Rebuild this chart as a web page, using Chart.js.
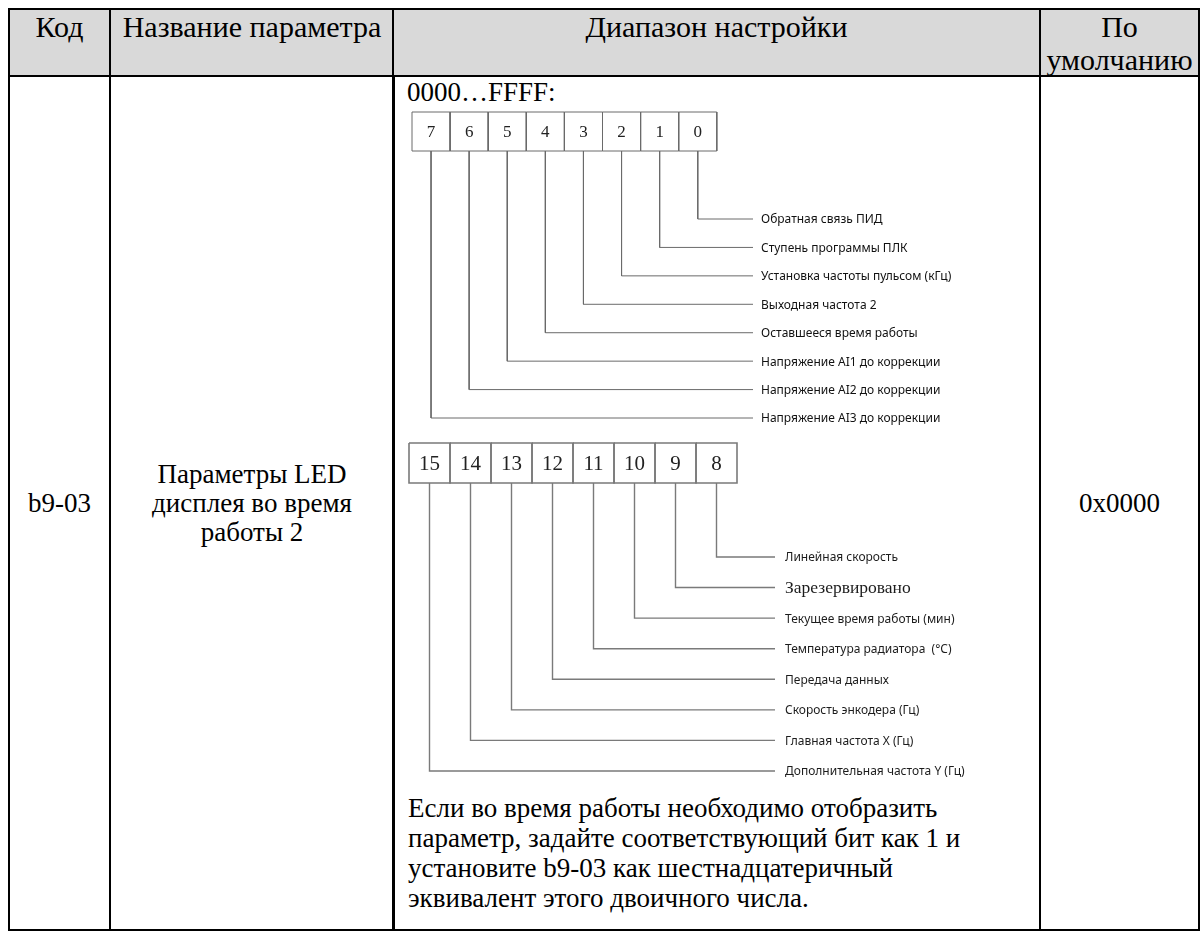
<!DOCTYPE html>
<html lang="ru">
<head>
<meta charset="utf-8">
<script src="https://cdn.jsdelivr.net/npm/chart.js@4.4.1/dist/chart.umd.min.js"></script>
<style>
    body { margin: 0; width: 1202px; height: 932px; position: relative; overflow: hidden; background: #fff;
           font-family: "Liberation Serif", "Times New Roman", serif; color: #000; }
    .cell { position: absolute; box-sizing: border-box; border: 2px solid #000; font-size: 27px; line-height: 30px; }
    .head { background: #d9d9d9; text-align: center; font-size: 30px; line-height: 33px; padding-top: 0; white-space: nowrap; }
    .mid { display: flex; align-items: center; justify-content: center; text-align: center; }
    .txt { position: absolute; font-size: 27px; line-height: 30px; white-space: nowrap; }
    canvas { position: absolute; }
</style>
</head>
<body>
<div class="cell head" style="left:8px;top:8px;width:103px;height:69px;">Код</div>
<div class="cell head" style="left:109px;top:8px;width:286px;height:69px;">Название параметра</div>
<div class="cell head" style="left:392px;top:8px;width:649px;height:69px;">Диапазон настройки</div>
<div class="cell head" style="left:1039px;top:8px;width:161px;height:69px;">По<br>умолчанию</div>

<div class="cell mid" style="left:8px;top:75px;width:103px;height:856px;">b9-03</div>
<div class="cell mid" style="left:109px;top:75px;width:286px;height:856px;line-height:29px;">Параметры LED<br>дисплея во время<br>работы 2</div>
<div class="cell" style="left:392px;top:75px;width:649px;height:856px;"></div>
<div class="cell mid" style="left:1039px;top:75px;width:161px;height:856px;">0x0000</div>

<div class="txt" style="left:407px;top:77px;">0000…FFFF:</div>
<div class="txt" style="left:408px;top:793px;">Если во время работы необходимо отобразить<br>параметр, задайте соответствующий бит как 1 и<br>установите b9-03 как шестнадцатеричный<br>эквивалент этого двоичного числа.</div>

<canvas id="lowByte" width="620" height="330" style="left:400px;top:100px;"></canvas>
<canvas id="highByte" width="620" height="350" style="left:400px;top:435px;"></canvas>

<script>
const topBits = [7, 6, 5, 4, 3, 2, 1, 0];
const topLabels = ['Обратная связь ПИД', 'Ступень программы ПЛК', 'Установка частоты пульсом (кГц)',
    'Выходная частота 2', 'Оставшееся время работы', 'Напряжение AI1 до коррекции',
    'Напряжение AI2 до коррекции', 'Напряжение AI3 до коррекции'];

const bottomBits = [15, 14, 13, 12, 11, 10, 9, 8];
const bottomLabels = ['Линейная скорость', 'Зарезервировано', 'Текущее время работы (мин)',
    'Температура радиатора  (°C)', 'Передача данных', 'Скорость энкодера (Гц)',
    'Главная частота X (Гц)', 'Дополнительная частота Y (Гц)'];

// page geometry of each group (px)
const lowGeom = {
    left: 400, top: 100, width: 620, height: 330,
    slot0: 412, slotPx: 38.1, row0: 219, rowPx: 28.43,
    boxTop: 112, boxBottom: 151, lineEnd: 753, labelX: 761,
    boxColor: '#6a6a6a', boxWidth: 1, lineColor: '#6a6a6a', lineWidth: 1,
    numFont: '17px "Liberation Serif"', labelFont: '12px "Noto Sans"', labelColor: '#111',
    serifRows: []
};
const highGeom = {
    left: 400, top: 435, width: 620, height: 350,
    slot0: 409, slotPx: 41, row0: 557, rowPx: 30.57,
    boxTop: 443, boxBottom: 483, lineEnd: 775, labelX: 785,
    boxColor: '#7a7a7a', boxWidth: 1.6, lineColor: '#7a7a7a', lineWidth: 1.4,
    numFont: '21px "Liberation Serif"', labelFont: '12px "Noto Sans"', labelColor: '#1c1c1c',
    serifRows: [1]
};

function drawGroup(canvasId, bits, labels, g) {
    const lowBit = Math.min(...bits);
    const yVal = px => (px - g.row0) / g.rowPx;
    const xVal = px => (px - g.slot0) / g.slotPx;
    const boxTop = yVal(g.boxTop);
    const boxBottom = yVal(g.boxBottom);
    const lineEnd = xVal(g.lineEnd);

    const datasets = [];
    bits.forEach(function (bit, slot) {
        datasets.push({
            data: [{ x: slot, y: boxTop }, { x: slot + 1, y: boxTop }, { x: slot + 1, y: boxBottom },
                   { x: slot, y: boxBottom }, { x: slot, y: boxTop }],
            borderColor: g.boxColor,
            borderWidth: g.boxWidth
        });
        const row = bit - lowBit;
        datasets.push({
            data: [{ x: slot + 0.5, y: boxBottom }, { x: slot + 0.5, y: row }, { x: lineEnd, y: row }],
            borderColor: g.lineColor,
            borderWidth: g.lineWidth
        });
    });

    const bitText = {
        id: 'bitText',
        afterDatasetsDraw(chart) {
            const { ctx, scales: { x, y } } = chart;
            ctx.save();
            ctx.textBaseline = 'middle';
            ctx.textAlign = 'center';
            ctx.fillStyle = '#222';
            ctx.font = g.numFont;
            bits.forEach(function (bit, slot) {
                ctx.fillText(String(bit), x.getPixelForValue(slot + 0.5), y.getPixelForValue((boxTop + boxBottom) / 2) + 1);
            });
            ctx.textAlign = 'left';
            ctx.fillStyle = g.labelColor;
            labels.forEach(function (label, row) {
                ctx.font = g.serifRows.includes(row) ? '17.5px "Liberation Serif"' : g.labelFont;
                ctx.fillText(label, x.getPixelForValue(xVal(g.labelX)), y.getPixelForValue(row) + 1);
            });
            ctx.restore();
        }
    };

    new Chart(document.getElementById(canvasId), {
        type: 'scatter',
        data: { datasets: datasets },
        options: {
            responsive: false,
            animation: false,
            events: [],
            showLine: true,
            layout: { padding: 0 },
            elements: {
                point: { radius: 0 },
                line: { tension: 0, fill: false, borderJoinStyle: 'miter' }
            },
            scales: {
                x: { type: 'linear', display: false,
                     min: xVal(g.left), max: xVal(g.left + g.width) },
                y: { type: 'linear', display: false, reverse: true,
                     min: yVal(g.top), max: yVal(g.top + g.height) }
            },
            plugins: {
                legend: { display: false },
                tooltip: { enabled: false }
            }
        },
        plugins: [bitText]
    });
}

drawGroup('lowByte', topBits, topLabels, lowGeom);
drawGroup('highByte', bottomBits, bottomLabels, highGeom);
</script>
</body>
</html>
